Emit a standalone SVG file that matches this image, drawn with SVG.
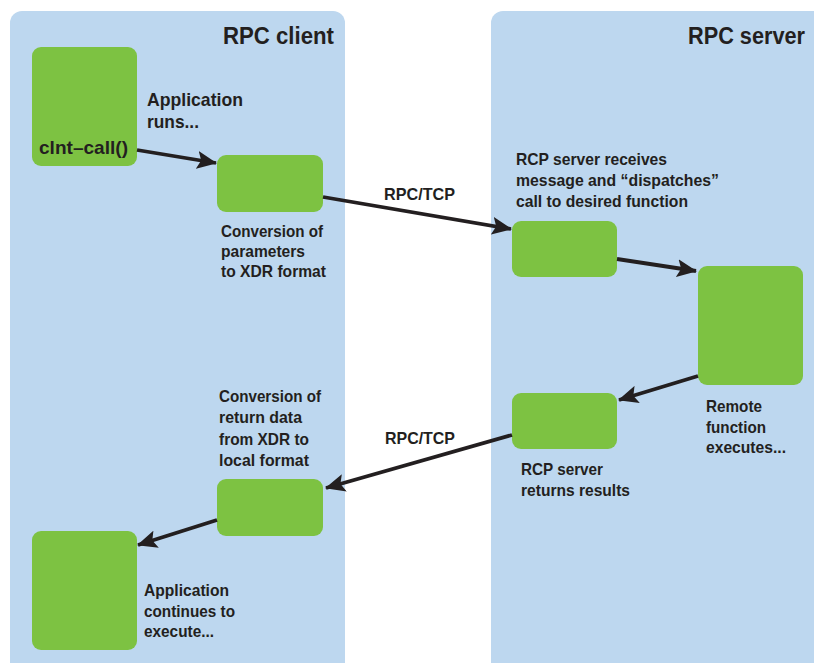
<svg xmlns="http://www.w3.org/2000/svg" width="814" height="663" viewBox="0 0 814 663">
<defs>
<style>
.panel{fill:#BDD7EF}
.box{fill:#7DC242}
text{font-family:"Liberation Sans",Arial,sans-serif;font-weight:bold;fill:#231F20}
.t{font-size:23px}
.l{font-size:16.5px}
.m{font-size:19px}
.conn line{stroke:#231F20;stroke-width:3.8;marker-end:url(#ah)}
</style>
<marker id="ah" viewBox="0 0 20 18" refX="19" refY="9" markerWidth="20" markerHeight="18" markerUnits="userSpaceOnUse" orient="auto">
<path d="M0,0 L20,9 L0,18 L4,9 z" fill="#231F20"/>
</marker>
</defs>
<rect width="814" height="663" fill="#FFFFFF"/>
<g id="client-panel">
<rect class="panel" x="10" y="11" width="335" height="670" rx="12"/>
<text class="t" x="223" y="44" textLength="111" lengthAdjust="spacingAndGlyphs">RPC client</text>
</g>
<g id="server-panel">
<rect class="panel" x="491" y="11" width="340" height="670" rx="12"/>
<text class="t" x="688" y="44" textLength="117" lengthAdjust="spacingAndGlyphs">RPC server</text>
</g>
<g id="app-runs">
<rect class="box" x="32" y="47" width="105" height="119" rx="9"/>
<text class="m" x="147" y="106" textLength="96" lengthAdjust="spacingAndGlyphs">Application</text>
<text class="m" x="147" y="128" textLength="52" lengthAdjust="spacingAndGlyphs">runs...</text>
<text class="m" x="39" y="154" textLength="89" lengthAdjust="spacingAndGlyphs">clnt–call()</text>
</g>
<g id="convert-params">
<rect class="box" x="217" y="155" width="106" height="57" rx="9"/>
<text class="l" x="221" y="237" textLength="102" lengthAdjust="spacingAndGlyphs">Conversion of</text>
<text class="l" x="221" y="257" textLength="84" lengthAdjust="spacingAndGlyphs">parameters</text>
<text class="l" x="221" y="277" textLength="105" lengthAdjust="spacingAndGlyphs">to XDR format</text>
</g>
<g id="server-receives">
<rect class="box" x="512" y="221" width="105" height="56" rx="9"/>
<text class="l" x="516" y="165" textLength="151" lengthAdjust="spacingAndGlyphs">RCP server receives</text>
<text class="l" x="516" y="186" textLength="203" lengthAdjust="spacingAndGlyphs">message and “dispatches”</text>
<text class="l" x="516" y="207" textLength="172" lengthAdjust="spacingAndGlyphs">call to desired function</text>
</g>
<g id="remote-function">
<rect class="box" x="698" y="266" width="105" height="119" rx="9"/>
<text class="l" x="706" y="412" textLength="56" lengthAdjust="spacingAndGlyphs">Remote</text>
<text class="l" x="706" y="433" textLength="60" lengthAdjust="spacingAndGlyphs">function</text>
<text class="l" x="706" y="453" textLength="80" lengthAdjust="spacingAndGlyphs">executes...</text>
</g>
<g id="server-returns">
<rect class="box" x="512" y="393" width="105" height="56" rx="9"/>
<text class="l" x="521" y="475" textLength="82" lengthAdjust="spacingAndGlyphs">RCP server</text>
<text class="l" x="521" y="496" textLength="109" lengthAdjust="spacingAndGlyphs">returns results</text>
</g>
<g id="convert-return">
<rect class="box" x="217" y="479" width="106" height="57" rx="9"/>
<text class="l" x="219" y="402" textLength="102" lengthAdjust="spacingAndGlyphs">Conversion of</text>
<text class="l" x="219" y="423" textLength="83" lengthAdjust="spacingAndGlyphs">return data</text>
<text class="l" x="219" y="445" textLength="90" lengthAdjust="spacingAndGlyphs">from XDR to</text>
<text class="l" x="219" y="466" textLength="90" lengthAdjust="spacingAndGlyphs">local format</text>
</g>
<g id="app-continues">
<rect class="box" x="32" y="531" width="105" height="119" rx="9"/>
<text class="l" x="144" y="596" textLength="85" lengthAdjust="spacingAndGlyphs">Application</text>
<text class="l" x="144" y="617" textLength="91" lengthAdjust="spacingAndGlyphs">continues to</text>
<text class="l" x="144" y="637" textLength="70" lengthAdjust="spacingAndGlyphs">execute...</text>
</g>
<g id="connectors" class="conn">
<line x1="137" y1="150" x2="216" y2="163"/>
<line x1="323" y1="197" x2="511" y2="229"/>
<text class="l" x="384" y="200" textLength="71" lengthAdjust="spacingAndGlyphs">RPC/TCP</text>
<line x1="617" y1="259" x2="696" y2="271"/>
<line x1="698" y1="376" x2="619" y2="400"/>
<line x1="512" y1="435" x2="326" y2="488"/>
<text class="l" x="385" y="444" textLength="70" lengthAdjust="spacingAndGlyphs">RPC/TCP</text>
<line x1="217" y1="520" x2="138" y2="545"/>
</g>
</svg>
